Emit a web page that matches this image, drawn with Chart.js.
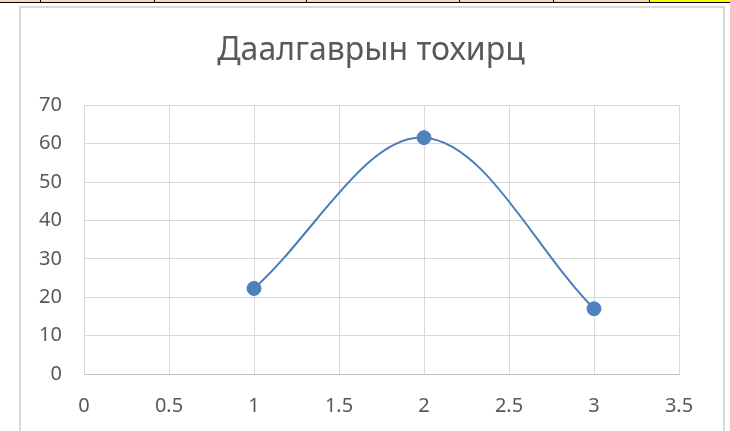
<!DOCTYPE html>
<html>
<head>
<meta charset="utf-8">
<script src="https://cdn.jsdelivr.net/npm/chart.js@4/dist/chart.umd.min.js"></script>
<style>
  html, body { margin: 0; padding: 0; background: #fff; }
  #wrap { position: relative; width: 730px; height: 431px; overflow: hidden; }
  .strip { position: absolute; left: 0; top: 0; width: 730px; height: 2px; background: #fcd5b4; border-bottom: 1px solid #000; }
  .cell { position: absolute; top: 0; width: 1px; height: 3px; background: #000; }
  .yellow { position: absolute; top: 0; left: 650px; width: 80px; height: 2px; background: #ffff00; }
  .frame { position: absolute; left: 19px; top: 6px; width: 702px; height: 440px; border: 2px solid #d9d9d9; }
  canvas { position: absolute; left: 0; top: 0; }
</style>
</head>
<body>
<div id="wrap">
  <div class="strip"></div>
  <div class="yellow"></div>
  <div class="cell" style="left:40px"></div>
  <div class="cell" style="left:154px"></div>
  <div class="cell" style="left:306px"></div>
  <div class="cell" style="left:459px"></div>
  <div class="cell" style="left:553px"></div>
  <div class="cell" style="left:649px"></div>
  <div class="frame"></div>
  <canvas id="chart" width="742" height="431"></canvas>
</div>
<script>
  // Өгөгдөл
  const xValues = [1, 2, 3];
  const yValues = [22.3, 61.6, 17.0];
  const chartTitle = 'Даалгаврын тохирц';

  const points = xValues.map((x, i) => ({ x: x, y: yValues[i] }));
  const ctx = document.getElementById('chart').getContext('2d');
  const tickFont = { family: 'Noto Sans', size: 20 };

  new Chart(ctx, {
      type: 'scatter',
      data: {
          datasets: [{
              data: points,
              showLine: true,
              tension: 0.35,
              borderColor: '#4a7ebb',
              borderWidth: 2,
              pointRadius: 7,
              pointBackgroundColor: '#4f81bd',
              pointBorderColor: '#4f81bd',
              pointBorderWidth: 1
          }]
      },
      options: {
          responsive: false,
          animation: false,
          layout: { padding: 0 },
          plugins: {
              legend: { display: false },
              tooltip: { enabled: false },
              title: {
                  display: true,
                  text: chartTitle,
                  color: '#595959',
                  font: { family: 'Noto Sans', size: 32, weight: 'normal' },
                  padding: { top: 32, bottom: 35 }
              }
          },
          scales: {
              x: {
                  type: 'linear',
                  min: 0,
                  max: 3.5,
                  ticks: {
                      stepSize: 0.5,
                      color: '#595959',
                      font: tickFont,
                      padding: 20,
                      callback: (v) => v
                  },
                  grid: { color: '#d9d9d9', drawTicks: false },
                  border: { color: '#bfbfbf' },
                  afterFit: (scale) => { scale.height = 57; }
              },
              y: {
                  min: 0,
                  max: 70,
                  ticks: {
                      stepSize: 10,
                      color: '#595959',
                      font: tickFont,
                      padding: 22
                  },
                  grid: { color: '#d9d9d9', drawTicks: false },
                  border: { color: '#d9d9d9' },
                  afterFit: (scale) => { scale.width = 84; }
              },
              // пустое место справа, чтобы заголовок был по центру рамки
              spacer: {
                  type: 'linear',
                  position: 'right',
                  display: true,
                  ticks: { display: false },
                  grid: { display: false },
                  border: { display: false },
                  afterFit: (scale) => { scale.width = 63; }
              }
          }
      }
  });
</script>
</body>
</html>
